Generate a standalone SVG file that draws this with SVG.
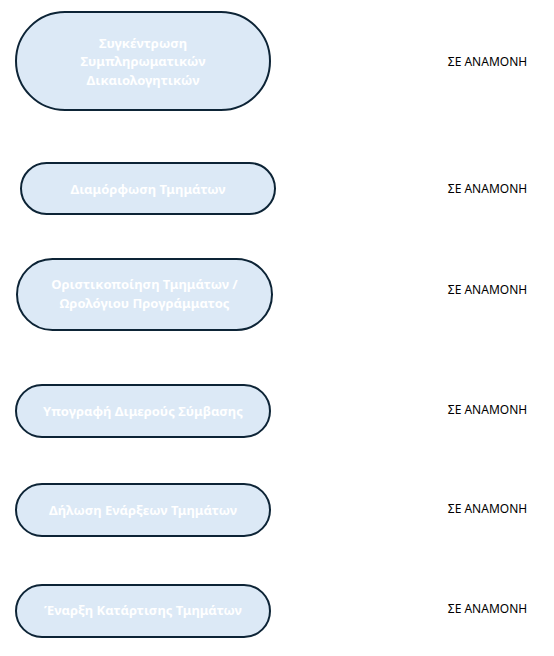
<svg xmlns="http://www.w3.org/2000/svg" width="554" height="656" viewBox="0 0 554 656">
<style>
.n{fill:#dce9f6;stroke:#0d2436;stroke-width:2}
.t{font-family:"Noto Sans",sans-serif;font-weight:bold;font-size:13px;fill:#ffffff;text-anchor:middle}
.s{font-family:"Noto Sans",sans-serif;font-size:12px;fill:#000000;text-anchor:middle}
</style>
<rect width="554" height="656" fill="#ffffff"/>
<g id="connectors"></g>
<g id="node1">
<rect class="n" x="16" y="12" width="254" height="98" rx="49" ry="49"/>
<text class="t" x="143" y="47.5">Συγκέντρωση</text>
<text class="t" x="143" y="66">Συμπληρωματικών</text>
<text class="t" x="143" y="84.5">Δικαιολογητικών</text>
</g>
<g id="node2">
<rect class="n" x="21" y="163" width="254" height="51" rx="25.5"/>
<text class="t" x="148" y="193.5">Διαμόρφωση Τμημάτων</text>
</g>
<g id="node3">
<rect class="n" x="17" y="259" width="255" height="71" rx="35.5"/>
<text class="t" x="144.5" y="289">Οριστικοποίηση Τμημάτων /</text>
<text class="t" x="144.5" y="308">Ωρολόγιου Προγράμματος</text>
</g>
<g id="node4">
<rect class="n" x="16" y="385" width="254" height="52" rx="26"/>
<text class="t" x="143" y="415.5">Υπογραφή Διμερούς Σύμβασης</text>
</g>
<g id="node5">
<rect class="n" x="16" y="484" width="254" height="52" rx="26"/>
<text class="t" x="143" y="514.5">Δήλωση Ενάρξεων Τμημάτων</text>
</g>
<g id="node6">
<rect class="n" x="16" y="585" width="254" height="52" rx="26"/>
<text class="t" x="143" y="615">Έναρξη Κατάρτισης Τμημάτων</text>
</g>
<g id="status">
<text class="s" x="487.5" y="66">ΣΕ ΑΝΑΜΟΝΗ</text>
<text class="s" x="487.5" y="193">ΣΕ ΑΝΑΜΟΝΗ</text>
<text class="s" x="487.5" y="294">ΣΕ ΑΝΑΜΟΝΗ</text>
<text class="s" x="487.5" y="414">ΣΕ ΑΝΑΜΟΝΗ</text>
<text class="s" x="487.5" y="513">ΣΕ ΑΝΑΜΟΝΗ</text>
<text class="s" x="487.5" y="613">ΣΕ ΑΝΑΜΟΝΗ</text>
</g>
</svg>
